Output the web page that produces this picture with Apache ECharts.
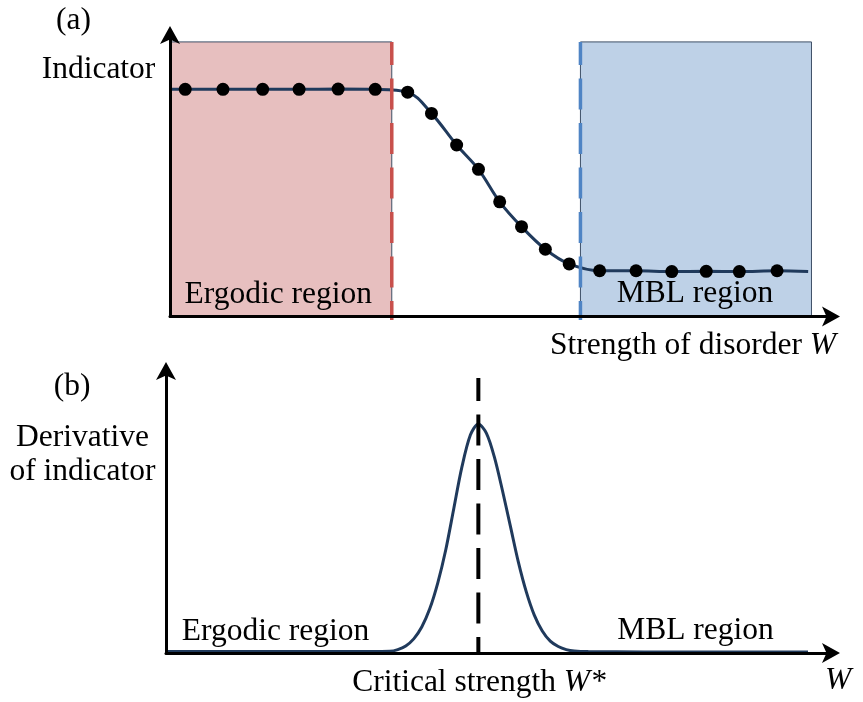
<!DOCTYPE html>
<html>
<head>
<meta charset="utf-8">
<script src="https://cdn.jsdelivr.net/npm/echarts@6/dist/echarts.min.js"></script>
<style>
  html, body { margin: 0; padding: 0; background: #fff; }
  #chart { width: 863px; height: 702px; }
</style>
</head>
<body>
<div id="chart"></div>
<script>
// Panel (a): indicator sampled against disorder strength W
const indicatorW = [0.23, 0.80, 1.40, 1.95, 2.54, 3.10, 3.59, 3.95, 4.33, 4.66,
                    4.98, 5.31, 5.67, 6.03, 6.49, 7.04, 7.58, 8.10, 8.60, 9.17];
const indicatorVal = [0.804, 0.804, 0.804, 0.804, 0.805, 0.804, 0.794, 0.719, 0.607, 0.521,
                      0.406, 0.318, 0.238, 0.186, 0.162, 0.162, 0.159, 0.160, 0.159, 0.162];
// ends of the guide curve running through the samples
const curveStart = [0, 0.804];
const curveEnd = [9.64, 0.159];

// Regions of panel (a)
const ergodicRange = [0, 3.35];
const mblRange = [6.20, 9.69];
const regionTop = 0.972;

// Panel (b): derivative of the indicator
const derivW = [0, 3.06, 3.36, 3.48, 3.60, 3.72, 3.84, 3.96, 4.08, 4.20, 4.32, 4.44, 4.57, 4.69,
                4.81, 4.93, 5.05, 5.17, 5.29, 5.41, 5.53, 5.65, 5.77, 5.89, 6.01, 6.13, 6.34,
                8.02, 9.64];
const derivVal = [0.005, 0.005, 0.006, 0.012, 0.025, 0.050, 0.092, 0.156, 0.247, 0.364, 0.509,
                  0.654, 0.770, 0.809, 0.777, 0.693, 0.576, 0.449, 0.322, 0.216, 0.134, 0.078,
                  0.042, 0.023, 0.012, 0.007, 0.005, 0.0035, 0.0035];
const criticalW = 4.69;
const markerTop = 0.972;

// Labels
const labelA = '(a)';
const labelB = '(b)';
const yNameTop = 'Indicator';
const yNameBottom = ['Derivative', 'of indicator'];
const ergodicText = 'Ergodic region';
const mblText = 'MBL region';
const xNameTop = 'Strength of disorder ';
const criticalText = 'Critical strength ';
const wSymbol = 'W';

const FONT = '"Liberation Serif", "Times New Roman", serif';
const SIZE = '31.5px ';
const CURVE = '#203a5c';

const zip = (xs, ys) => xs.map((x, i) => [x, ys[i]]);

function axisPair(grid) {
  const line = {
    show: true,
    symbol: ['none', 'arrow'],
    symbolSize: [15, 18],
    symbolOffset: [0, 8],
    lineStyle: { color: '#000', width: 3 }
  };
  const common = {
    type: 'value', gridIndex: grid, min: 0, z: 10,
    axisLine: line, axisTick: { show: false }, axisLabel: { show: false },
    splitLine: { show: false }
  };
  return {
    x: Object.assign({ max: 10 }, common),
    y: Object.assign({ max: 1 }, common)
  };
}
const axTop = axisPair(0);
const axBot = axisPair(1);

function text(x, y, str, italic) {
  return {
    type: 'text', x: x, y: y, z: 100,
    style: { text: str, font: (italic ? 'italic ' : '') + SIZE + FONT, fill: '#000',
             align: 'center', verticalAlign: 'middle' }
  };
}
function richText(x, y, plain, italic, align) {
  return {
    type: 'text', x: x, y: y, z: 100,
    style: {
      text: '{p|' + plain + '}{i|' + italic + '}',
      align: align, verticalAlign: 'middle',
      rich: {
        p: { font: SIZE + FONT, fill: '#000' },
        i: { font: 'italic ' + SIZE + FONT, fill: '#000' }
      }
    }
  };
}

const dashed = (color, w) => ({
  color: color, width: w, type: [31, 13.5], dashOffset: 8
});

const option = {
  animation: false,
  backgroundColor: '#fff',
  grid: [
    { left: 170, top: 34, width: 662, height: 282.5 },
    { left: 166, top: 370, width: 666, height: 283 }
  ],
  xAxis: [axTop.x, axBot.x],
  yAxis: [axTop.y, axBot.y],
  series: [
    {
      // region shading behind the indicator curve
      type: 'line', xAxisIndex: 0, yAxisIndex: 0, data: [], z: 1,
      markArea: {
        silent: true,
        data: [
          [{ xAxis: ergodicRange[0], yAxis: 0, itemStyle: { color: '#e7bfbf', borderColor: '#3e4f66', borderWidth: 1 } },
           { xAxis: ergodicRange[1], yAxis: regionTop }],
          [{ xAxis: mblRange[0], yAxis: 0, itemStyle: { color: '#bed1e7', borderColor: '#3e4f66', borderWidth: 1 } },
           { xAxis: mblRange[1], yAxis: regionTop }]
        ]
      }
    },
    {
      type: 'line', xAxisIndex: 0, yAxisIndex: 0, z: 3,
      data: [curveStart].concat(zip(indicatorW, indicatorVal), [curveEnd]),
      smooth: 0.35, showSymbol: false,
      lineStyle: { color: CURVE, width: 3 }
    },
    {
      type: 'line', xAxisIndex: 0, yAxisIndex: 0, z: 4, clip: false,
      data: [[ergodicRange[1], regionTop], [ergodicRange[1], -0.012]],
      showSymbol: false, lineStyle: dashed('#c8504c', 3.5)
    },
    {
      type: 'line', xAxisIndex: 0, yAxisIndex: 0, z: 4, clip: false,
      data: [[mblRange[0], regionTop], [mblRange[0], -0.012]],
      showSymbol: false, lineStyle: dashed('#4f84c4', 3.5)
    },
    {
      type: 'scatter', xAxisIndex: 0, yAxisIndex: 0, z: 5,
      data: zip(indicatorW, indicatorVal),
      symbolSize: 13, itemStyle: { color: '#000', opacity: 1 }
    },
    {
      type: 'line', xAxisIndex: 1, yAxisIndex: 1, z: 3,
      data: zip(derivW, derivVal),
      smooth: 0.3, showSymbol: false,
      lineStyle: { color: CURVE, width: 3 }
    },
    {
      type: 'line', xAxisIndex: 1, yAxisIndex: 1, z: 4, clip: false,
      data: [[criticalW, markerTop], [criticalW, 0]],
      showSymbol: false, lineStyle: dashed('#000', 4)
    }
  ],
  graphic: [
    text(73.5, 21, labelA),
    text(98.5, 69.5, yNameTop),
    text(278.3, 295, ergodicText),
    text(695, 294, mblText),
    richText(836, 346, xNameTop, wSymbol, 'right'),
    text(72, 387, labelB),
    text(82.5, 437.5, yNameBottom[0]),
    text(82.5, 471.5, yNameBottom[1]),
    text(275.5, 632, ergodicText),
    text(695.5, 631, mblText),
    richText(479, 683, criticalText, wSymbol + '*', 'center'),
    text(838, 681, wSymbol, true)
  ]
};

const chart = echarts.init(document.getElementById('chart'), null, { renderer: 'canvas' });
chart.setOption(option);
</script>
</body>
</html>
